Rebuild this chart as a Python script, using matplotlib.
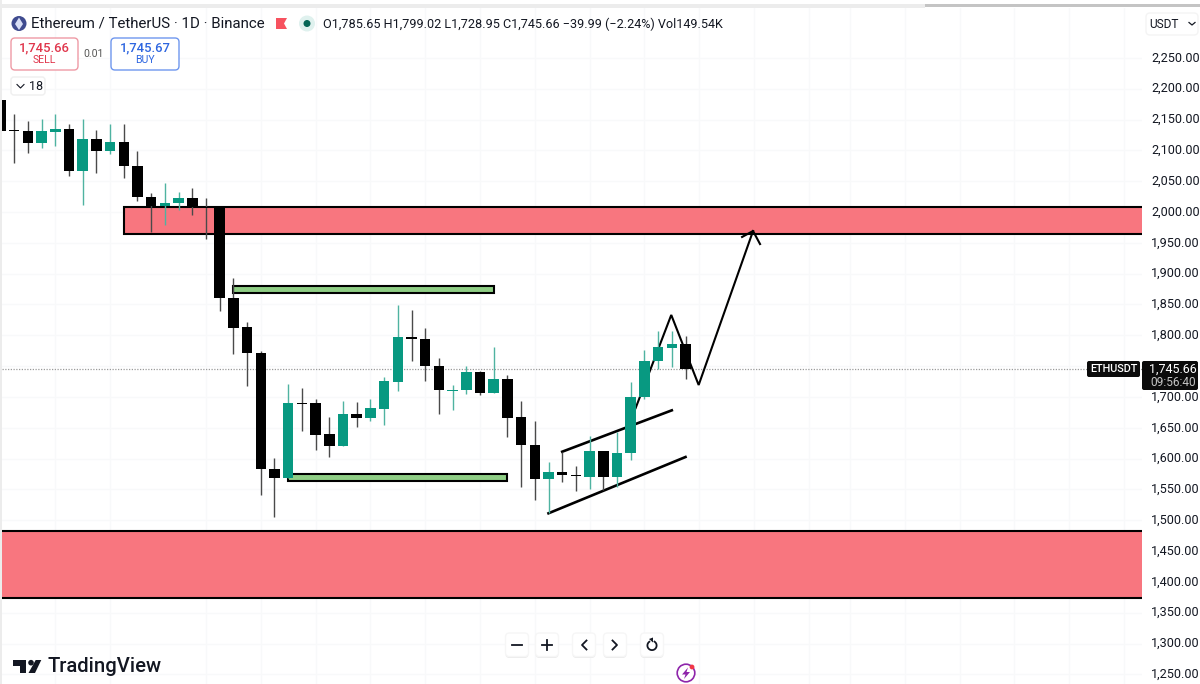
import matplotlib
matplotlib.use("Agg")
from matplotlib import pyplot as plt
from matplotlib.patches import FancyBboxPatch, Circle, Polygon, Rectangle
from matplotlib.transforms import ScaledTranslation
import numpy as np

# daily ETH/USDT candles
opens = [2182, 2132, 2130.9, 2111.4, 2129.8, 2134.6, 2066, 2118.4, 2099.5, 2113.6,
         2075.1, 2024.8, 2010.2, 2014.1, 2023.2, 2008, 2008, 1860, 1813, 1771.3,
         1583.6, 1568.5, 1690.2, 1690.2, 1639.4, 1620.4, 1672.8, 1665.9, 1680.5, 1724.7,
         1796.8, 1793.5, 1750.7, 1709.7, 1710.8, 1741, 1706.4, 1728.6, 1667, 1622,
         1566.9, 1578.3, 1573, 1570.6, 1612.8, 1570.6, 1608.6, 1699.9, 1757.8, 1779.9,
         1785.65]
highs = [2182, 2158.5, 2147.6, 2150.4, 2158.5, 2142.3, 2150.9, 2133, 2142.8, 2142.3,
         2099, 2031.3, 2047.5, 2032, 2038.5, 2022.7, 2008.1, 1892.5, 1821.1, 1775,
         1600.5, 1721, 1714.5, 1697.2, 1668, 1693, 1691.8, 1697.2, 1732.9, 1849.6,
         1841, 1811.4, 1762.7, 1719.4, 1750.2, 1742, 1780.5, 1735.6, 1693.4, 1661,
         1594, 1611.2, 1588.5, 1636.6, 1612.8, 1643.6, 1723.8, 1776.2, 1807.5, 1807.5,
         1799.02]
lows = [2131, 2079, 2096.2, 2104.3, 2107.1, 2058.4, 2010.9, 2063.8, 2093.6, 2055.6,
        2017.4, 1967.6, 1978.4, 2003.2, 1995.2, 1956.7, 1839.9, 1769.7, 1717.8, 1540.5,
        1505.7, 1568.5, 1645.3, 1614.4, 1603.1, 1620.4, 1651.7, 1661.5, 1655, 1709.6,
        1758.8, 1725.9, 1672.3, 1678.8, 1704.8, 1702.7, 1706.4, 1635.8, 1553.5, 1532.8,
        1511.3, 1562, 1547.9, 1550.2, 1549, 1553.5, 1597.7, 1696.2, 1745.3, 1749,
        1728.95]
closes = [2131, 2131, 2111.4, 2130.9, 2134.6, 2066, 2118.4, 2099.5, 2113.6, 2074.1,
          2024.3, 2010.2, 2015.1, 2023.2, 2007.6, 2006, 1860, 1812.3, 1770.8, 1582.6,
          1568.5, 1690.2, 1688.6, 1638.8, 1620.4, 1672.8, 1665.9, 1681.6, 1725.9, 1796.8,
          1793.5, 1750.2, 1710.8, 1711.3, 1741, 1706.4, 1729.1, 1666.3, 1621.6, 1566.9,
          1578.3, 1572.9, 1571.4, 1612.8, 1570.6, 1608.6, 1699.9, 1757.8, 1780.5, 1785.4,
          1745.66]

price_ticks = [1250, 1300, 1350, 1400, 1450, 1500, 1550, 1600, 1650, 1700, 1800, 1850,
               1900, 1950, 2000, 2050, 2100, 2150, 2200, 2250]
grid_days = [4, 8, 15, 19, 23, 27, 31, 35, 39, 43, 47, 51, 55, 59, 62, 66, 70, 74, 78, 82]
last_price = 1745.66

# zones: (first candle, last candle, top price, bottom price)
supply_zone = (9, 90, 2008.1, 1964.8)
demand_zone = (-2, 90, 1482.6, 1374)
upper_box = (17, 36, 1880, 1869)
lower_box = (21, 37, 1575, 1564)

# drawn trend lines
channel_top_x, channel_top_y = [41, 49], [1611.2, 1678.3]
channel_bot_x, channel_bot_y = [40, 50], [1511.3, 1602.6]
path_x = [46.36, 48.96, 50.96, 54.93]
path_y = [1682, 1833, 1719.4, 1969.2]
head_x = [54.13, 54.93, 55.44]
head_y = [1959.5, 1969.2, 1948]

GREEN = "#089981"
RED_ZONE = "#f8767f"
LIME = "#8fce85"

plt.rcParams['font.family'] = ['Roboto', 'DejaVu Sans']
fig = plt.figure(figsize=(12, 6.84), dpi=100)

# main pane, scaled so one candle is 13.7 px and 50 USDT is 30.8 px
ax = fig.add_axes([2 / 1200, 0, 1140 / 1200, 676 / 684])
ax.set_xlim(0.11, 83.32)
ax.set_ylim(1234.4, 2330.9)
for s in ax.spines.values():
    s.set_visible(False)

ax.set_xticks(grid_days)
ax.set_xticklabels([])
ax.tick_params(axis='x', length=0)
ax.set_yticks(price_ticks + [1750])
ax.yaxis.tick_right()
ax.set_yticklabels([f"{p:,.2f}" for p in price_ticks] + [""])
ax.tick_params(axis='y', length=0, pad=6.5, labelsize=9.1, labelcolor="#131722")
# price labels sit slightly above their grid lines
for lab in ax.get_yticklabels():
    lab.set_transform(lab.get_transform() + ScaledTranslation(0, 1.5 / 100, fig.dpi_scale_trans))
ax.grid(True, color="#f8f9fa", lw=1)
ax.set_axisbelow(True)

ax.axhline(last_price, color="#9a9a9a", lw=0.9, ls=(0, (1, 1.2)), zorder=1)

for (x0, x1, top, bot), col in [(supply_zone, RED_ZONE), (demand_zone, RED_ZONE),
                                (upper_box, LIME), (lower_box, LIME)]:
    ax.add_patch(Rectangle((x0, bot), x1 - x0, top - bot, facecolor=col,
                           edgecolor="black", lw=1.5, zorder=2))

ax.plot(channel_top_x, channel_top_y, color="black", lw=1.9, zorder=3)
ax.plot(channel_bot_x, channel_bot_y, color="black", lw=1.9, zorder=3)
ax.plot(path_x, path_y, color="black", lw=1.5, zorder=3, solid_joinstyle='miter')
ax.plot(head_x, head_y, color="black", lw=1.5, zorder=3)

days = np.arange(len(opens))
o, h, l, c = map(np.array, (opens, highs, lows, closes))
up = c >= o
colors = np.where(up, GREEN, "black")
wick_colors = np.where(up, "#4fb3a1", "#4a4a4a")
ax.vlines(days, l, h, colors=wick_colors, lw=1, zorder=4)
ax.bar(days, np.maximum(np.abs(c - o), 1.6), bottom=np.minimum(o, c), width=0.76,
       color=colors, lw=0, zorder=5)

# overlay in pixel units for the toolbar, header and logo
ui = fig.add_axes([0, 0, 1, 1], facecolor="none")
ui.set_xlim(0, 1200)
ui.set_ylim(684, 0)
ui.axis('off')


def rbox(x0, y0, x1, y1, r=3, fc="white", ec="none", lw=1, z=6):
    ui.add_patch(FancyBboxPatch((x0 + r, y0 + r), x1 - x0 - 2 * r, y1 - y0 - 2 * r,
                                boxstyle=f"round,pad={r},rounding_size={r}",
                                fc=fc, ec=ec, lw=lw, zorder=z))


def label(x, y, s, size=10, color="#131722", ha="left", **kw):
    ui.text(x, y, s, fontsize=size, color=color, ha=ha, va="center", zorder=8, **kw)


# window edges
ui.add_patch(Rectangle((0, 0), 2, 684, fc="#ececec", lw=0))
ui.add_patch(Rectangle((0, 4), 925, 4, fc="#ececec", lw=0))
ui.add_patch(Rectangle((925, 4), 275, 2.5, fc="#c4c4c4", lw=0))

# header
ui.add_patch(Circle((19, 23.5), 7.5, fc="#3f4b8f", lw=0))
ui.add_patch(Polygon([(19, 17.5), (23, 24), (19, 30), (15, 24)], fc="#d8def5", lw=0))
label(31, 24, "Ethereum / TetherUS · 1D · Binance", size=10.8)
ui.add_patch(Polygon([(276, 18), (287, 18), (284, 23.5), (287, 29), (276, 29)], fc="#f7525f", lw=0))
ui.add_patch(Circle((307, 23.5), 8, fc="#dff1ee", lw=0))
ui.add_patch(Circle((307, 23.5), 3.5, fc="#056656", lw=0))
label(323, 24, "O1,785.65 H1,799.02 L1,728.95 C1,745.66 −39.99 (−2.24%) Vol149.54K", size=9.1)

rbox(11, 38, 78, 70, r=4, ec="#ee9aa5")
label(44.5, 48, "1,745.66", size=9.4, color="#e0364c", ha="center", fontweight="medium")
label(44.5, 60, "SELL", size=7.6, color="#e0364c", ha="center")
label(94, 54, "0.01", size=7.6, color="#555555", ha="center")
rbox(111, 38, 179, 70, r=4, ec="#6f97ee")
label(145, 48, "1,745.67", size=9.4, color="#2e66e0", ha="center", fontweight="medium")
label(145, 60, "BUY", size=7.6, color="#2e66e0", ha="center")
rbox(11, 77, 45, 95, r=3, ec="#efefef")
ui.plot([17, 20.5, 24], [84.5, 88, 84.5], color="#131722", lw=0.8, zorder=8)
label(29, 86, "18", size=9)

# axis widgets
rbox(1146, 13, 1198, 35, r=4, ec="#f4f4f4")
label(1149, 24, "USDT", size=8.6)
ui.plot([1189, 1192, 1195], [22.5, 25, 22.5], color="#131722", lw=0.9, zorder=8)

rbox(1087, 361, 1140, 377, r=2, fc="#0b0b0b")
label(1113.5, 369, "ETHUSDT", size=7.8, color="white", ha="center", fontweight="medium")
rbox(1142, 361, 1198, 390, r=2, fc="#0b0b0b")
label(1173, 369, "1,745.66", size=9, color="white", ha="center")
label(1173, 382, "09:56:40", size=8.6, color="#c4c4c4", ha="center")

# zoom and scroll buttons
for cx in [517, 547, 584, 615, 652]:
    rbox(cx - 11.5, 635, cx + 11.5, 658, r=4, fc="#ececec", z=5)
    rbox(cx - 11.5, 633, cx + 11.5, 656.5, r=4, ec="#f6f6f6", z=6)
btn = dict(color="#131722", lw=1.3, zorder=8)
ui.plot([512, 522], [645, 645], **btn)
ui.plot([542, 552], [645, 645], **btn)
ui.plot([547, 547], [640, 650], **btn)
ui.plot([586.5, 582, 586.5], [640.5, 645, 649.5], **btn)
ui.plot([612.5, 617, 612.5], [640.5, 645, 649.5], **btn)
t = np.linspace(-1.0, 4.1, 40)
ui.plot(652 + 4.6 * np.cos(t), 645.5 + 4.6 * np.sin(t), **btn)
ui.add_patch(Polygon([(649, 639), (653, 637.5), (653, 642.5)], fc="#131722", lw=0, zorder=8))

# logo
ui.add_patch(Polygon([(13.3, 660), (26, 660), (26, 673), (20, 673), (20, 665.5), (13.3, 665.5)],
                     fc="#131722", lw=0))
ui.add_patch(Circle((31, 662.7), 2.8, fc="#131722", lw=0))
ui.add_patch(Polygon([(35.7, 660), (41.3, 660), (35, 673), (28.5, 673)], fc="#131722", lw=0))
label(47, 666, "TradingView", size=14.6, fontweight="medium")

# bolt badge
ui.add_patch(Circle((686, 673), 8.8, fc="white", ec="#8e24aa", lw=1.2, zorder=7))
ui.add_patch(Polygon([(688, 667.5), (682, 674.5), (685.5, 674.5), (684, 679),
                      (690, 672), (686.5, 672)], fc="#8e24aa", lw=0, zorder=8))
ui.add_patch(Circle((692, 667), 2.4, fc="#f23645", lw=0, zorder=9))

fig.savefig("out.png", dpi=100)
